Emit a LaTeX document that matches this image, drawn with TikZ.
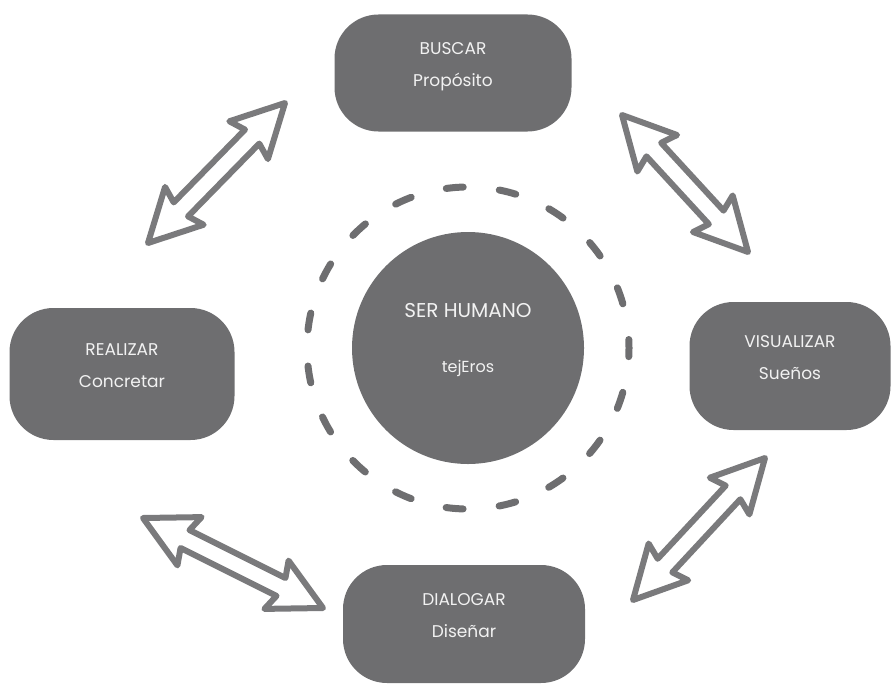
\documentclass[tikz,border=0pt]{standalone}
\usepackage{fontspec}
\setmainfont{Poppins}
\usetikzlibrary{calc}

\definecolor{paint}{RGB}{110,110,112}
\definecolor{pen}{RGB}{122,122,124}
\definecolor{chalk}{RGB}{242,242,242}

\begin{document}
\begin{tikzpicture}[
  x=1pt, y=-1pt,
  pad/.style={fill=paint, rounded corners=44pt, align=center, text=chalk,
    font=\fontsize{17}{21}\selectfont, text height=44pt, text depth=18pt},
  core/.style={circle, fill=paint, minimum size=232pt, align=center, text=chalk,
    font=\fontsize{16}{20}\selectfont, text height=69pt, text depth=21pt},
  ring/.style={draw=paint, line width=7pt, line cap=round,
    dash pattern=on 17pt off 36.24pt, dash phase=8.5pt},
  twohead/.style={draw=pen, line width=6pt, line join=round, to path={
    -- ($(\tikztostart)!52pt!(\tikztotarget)!27pt!90:(\tikztotarget)$)
    -- ($(\tikztostart)!47pt!(\tikztotarget)!10pt!90:(\tikztotarget)$)
    -- ($(\tikztotarget)!47pt!(\tikztostart)!10pt!-90:(\tikztostart)$)
    -- ($(\tikztotarget)!52pt!(\tikztostart)!27pt!-90:(\tikztostart)$)
    -- (\tikztotarget)
    -- ($(\tikztotarget)!52pt!(\tikztostart)!27pt!90:(\tikztostart)$)
    -- ($(\tikztotarget)!47pt!(\tikztostart)!10pt!90:(\tikztostart)$)
    -- ($(\tikztostart)!47pt!(\tikztotarget)!10pt!-90:(\tikztotarget)$)
    -- ($(\tikztostart)!52pt!(\tikztotarget)!27pt!-90:(\tikztotarget)$)
    -- cycle}}
]
\useasboundingbox (0,0) rectangle (893,685);

% centre
\node[core] (human) at (468,348) {{\fontsize{20}{24}\selectfont SER HUMANO}\\[35pt]tejEros};
\draw[ring] (human) circle[radius=161pt];

% the four steps
\node[pad, minimum width=237pt, minimum height=117pt] (busc) at (453,73) {BUSCAR\\[11pt]Propósito};
\node[pad, minimum width=201pt, minimum height=128pt] (visu) at (790,366) {VISUALIZAR\\[11pt]Sueños};
\node[pad, minimum width=242pt, minimum height=118pt] (dial) at (464,624) {DIALOGAR\\[11pt]Diseñar};
\node[pad, minimum width=225pt, minimum height=132pt] (real) at (122,374) {REALIZAR\\[11pt]Concretar};

% arrow ends
\coordinate (tl1) at (148,243);
\coordinate (tl2) at (285,103);
\coordinate (tr1) at (622,115);
\coordinate (tr2) at (748,252);
\coordinate (br1) at (765,458);
\coordinate (br2) at (633,600);
\coordinate (bl1) at (143,518);
\coordinate (bl2) at (323,608);

\draw[twohead] (tl1) to (tl2);
\draw[twohead] (tr1) to (tr2);
\draw[twohead] (br1) to (br2);
\draw[twohead] (bl1) to (bl2);
\end{tikzpicture}
\end{document}
